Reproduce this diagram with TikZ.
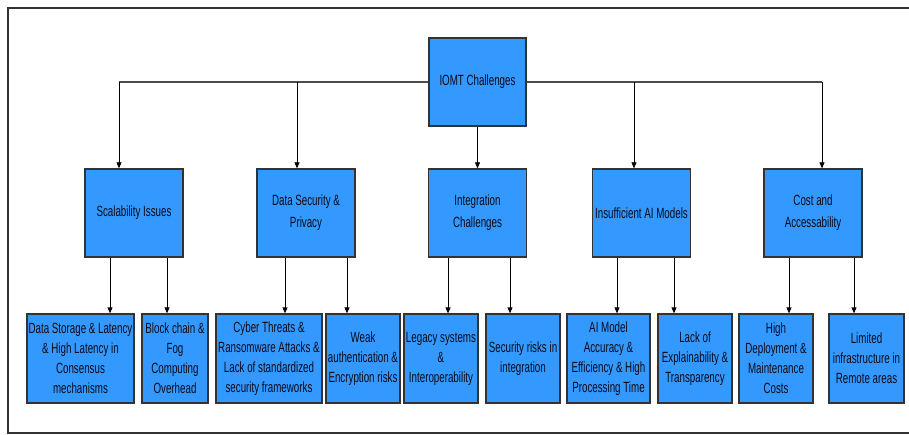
\documentclass[tikz,border=0pt]{standalone}
\usepackage{fontspec}
\setmainfont[FakeStretch=0.66]{Liberation Sans}
\usetikzlibrary{arrows.meta}
\definecolor{boxblue}{HTML}{3399FF}
\definecolor{boxline}{HTML}{333333}
\definecolor{inktext}{HTML}{0A0A1A}

\begin{document}
\begin{tikzpicture}[x=1pt,y=-1pt,
    box/.style={draw=boxline, line width=1.3pt, fill=boxblue, text=inktext, align=center, inner sep=1pt, font=\fontsize{14.8}{20}\selectfont},
    topbox/.style={box, minimum width=97pt, minimum height=88pt},
    midbox/.style={box, minimum width=98pt, minimum height=88pt, font=\fontsize{14.8}{22}\selectfont},
    leafbox/.style={box, minimum height=89pt},
    bus/.style={draw=gray!60!black, line width=1.6pt},
    link/.style={draw=black, line width=0.8pt, -{Triangle[length=6pt,width=5pt]}},
    frame/.style={draw=boxline, line width=2.5pt}]
    \useasboundingbox (0,0) rectangle (909,435);
    \draw[frame] (909,8) -- (8,8) -- (8,433) -- (909,433);

    \node[topbox] (root) at (477.5,82) {IOMT Challenges};

    \node[midbox] (scal) at (134,213) {Scalability Issues};
    \node[midbox] (sec) at (306,213) {Data Security \&\\Privacy};
    \node[midbox] (integ) at (477.5,213) {Integration\\Challenges};
    \node[midbox] (ai) at (641.5,213) {Insufficient AI Models};
    \node[midbox] (cost) at (813,213) {Cost and\\Accessability};

    \node[leafbox, minimum width=107pt] (store) at (80.5,358.5) {Data Storage \& Latency\\\& High Latency in\\Consensus\\mechanisms};
    \node[leafbox, minimum width=66pt] (fog) at (175,358.5) {Block chain \&\\Fog\\Computing\\Overhead};
    \node[leafbox, minimum width=106pt] (cyber) at (269,358.5) {Cyber Threats \&\\Ransomware Attacks \&\\Lack of standardized\\security frameworks};
    \node[leafbox, minimum width=74pt] (weak) at (363,358.5) {Weak\\authentication \&\\Encryption risks};
    \node[leafbox, minimum width=74pt] (legacy) at (441,358.5) {Legacy systems\\\&\\Interoperability};
    \node[leafbox, minimum width=74pt] (secrisk) at (523,358.5) {Security risks in\\integration};
    \node[leafbox, minimum width=83pt] (accur) at (608.5,358.5) {AI Model\\Accuracy \&\\Efficiency \& High\\Processing Time};
    \node[leafbox, minimum width=74pt] (explain) at (695,358.5) {Lack of\\Explainability \&\\Transparency};
    \node[leafbox, minimum width=74pt] (deploy) at (776,358.5) {High\\Deployment \&\\Maintenance\\Costs};
    \node[leafbox, minimum width=75pt] (remote) at (866.5,358.5) {Limited\\infrastructure in\\Remote areas};

    \coordinate (b1) at (119,82);
    \coordinate (b2) at (297,82);
    \coordinate (b4) at (634,82);
    \coordinate (b5) at (822,82);
    \draw[bus] (root.west) -- (b1);
    \draw[bus] (root.east) -- (b5);
    \draw[link] (b1) -- (scal.north -| b1);
    \draw[link] (b2) -- (sec.north -| b2);
    \draw[link] (root.south) -- (integ.north);
    \draw[link] (b4) -- (ai.north -| b4);
    \draw[link] (b5) -- (cost.north -| b5);

    \foreach \p/\c/\x in {scal/store/110, scal/fog/167, sec/cyber/285, sec/weak/347,
        integ/legacy/448, integ/secrisk/510, ai/accur/617, ai/explain/674,
        cost/deploy/789, cost/remote/854}
        \draw[link] (\p.south -| \x,0) -- (\c.north -| \x,0);
\end{tikzpicture}
\end{document}
